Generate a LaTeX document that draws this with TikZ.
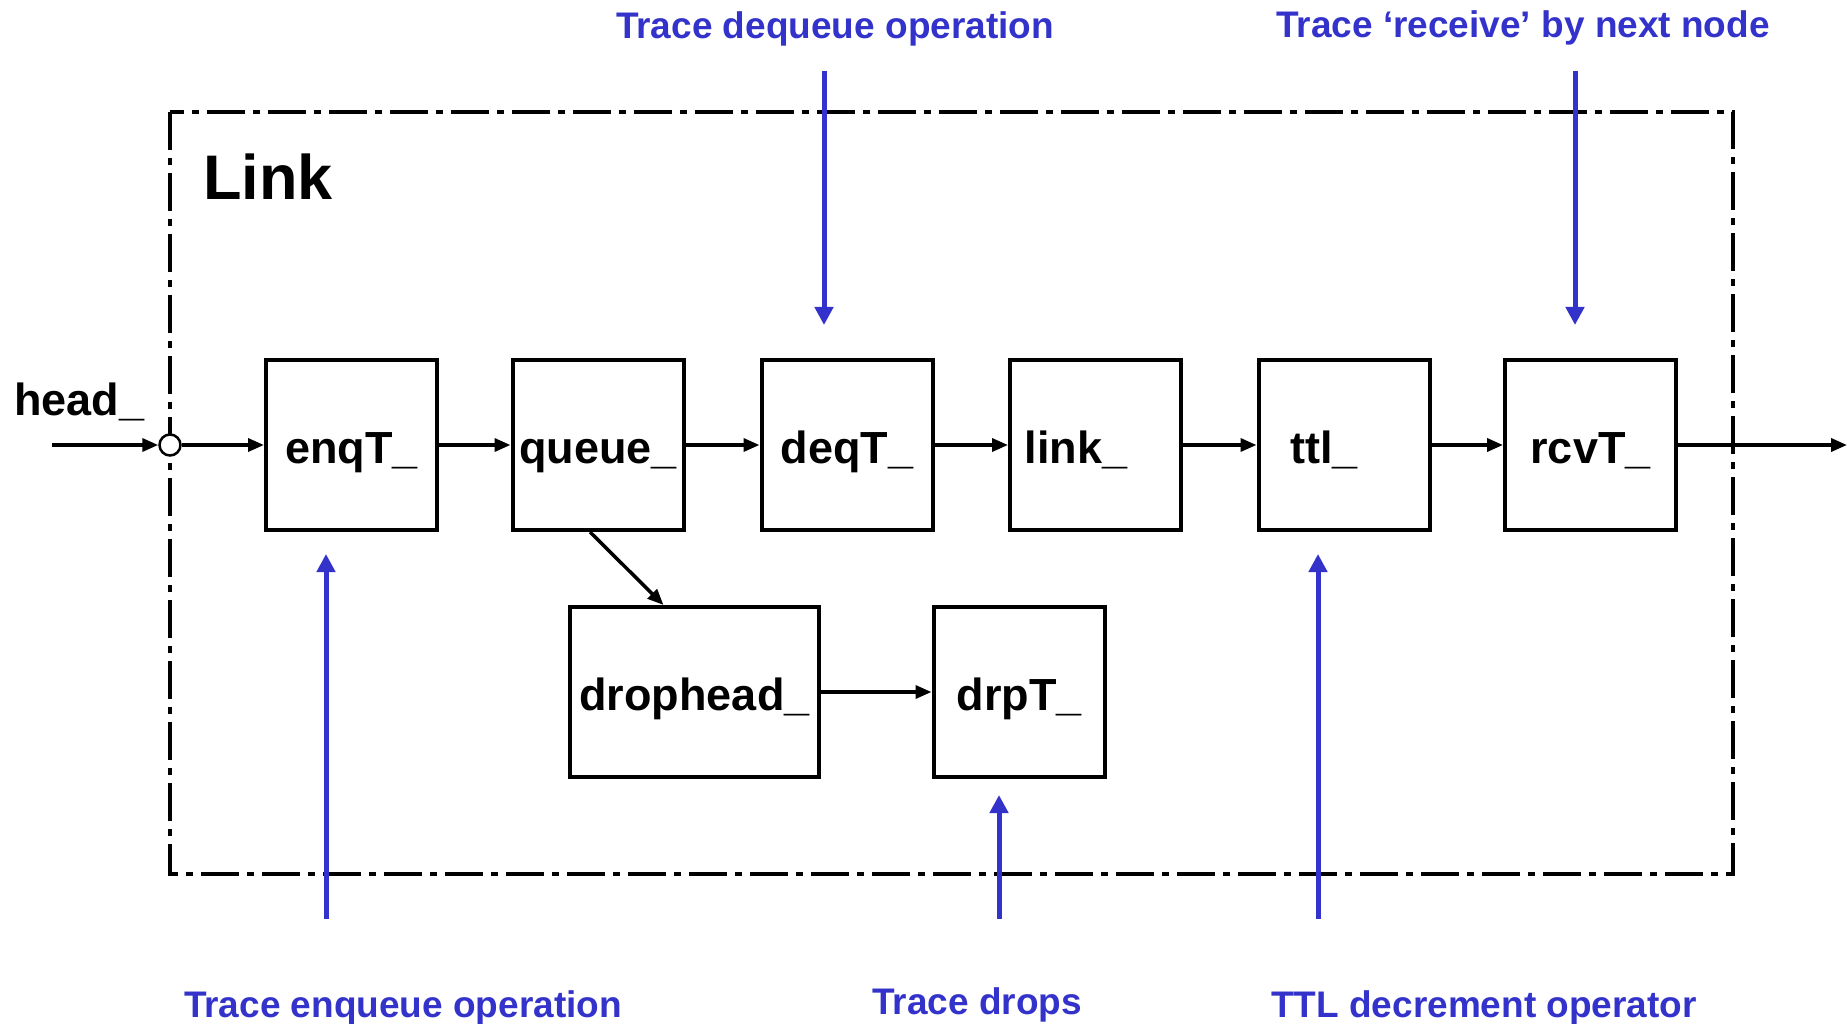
\documentclass[tikz,border=0pt]{standalone}
\usepackage{fontspec}
\setmainfont{Liberation Sans}
\usetikzlibrary{arrows.meta,calc}
\definecolor{traceblue}{RGB}{51,51,204}
\begin{document}
\begin{tikzpicture}[x=1pt,y=-1pt,
  block/.style={draw,line width=4pt,minimum width=171pt,minimum height=170pt,
    inner sep=0pt,text height=37pt,text depth=0pt,
    font=\fontsize{45}{54}\selectfont\bfseries},
  flow/.style={line width=3.5pt,-{Triangle[length=16pt,width=13pt]}},
  trace/.style={draw=traceblue,line width=5pt,-{Triangle[length=18pt,width=18pt]}},
  tracelabel/.style={text=traceblue,inner sep=0pt,anchor=base,
    font=\fontsize{37}{44}\selectfont\bfseries},
  linkframe/.style={line width=4pt,dash pattern=on 38pt off 8pt on 7pt off 8pt}]

\useasboundingbox[fill=white] (0,0) rectangle (1847,1024);

% dash-dotted frame of the Link object
\draw[linkframe] (170,112) rectangle (1733,874);
\node[anchor=base west,inner sep=0pt,font=\fontsize{63}{72}\selectfont\bfseries] (title) at (203,200) {Link};

% main chain of objects
\node[block] (enq)   at (351.5,445) {enqT\_};
\node[block] (queue) at (598,445)   {queue\_};
\node[block] (deq)   at (847,445)   {deqT\_};
\node[block] (lnk)   at (1095.5,445) {link\_\hspace*{39pt}};
\node[block] (ttl)   at (1344,445)  {ttl\_\hspace*{40pt}};
\node[block] (rcv)   at (1590.5,445) {rcvT\_};

% drop branch
\node[block,minimum width=249pt] (drop) at (694.5,692) {drophead\_};
\node[block] (drp) at (1019,692) {drpT\_};

% entry point
\node[anchor=base west,inner sep=0pt,font=\fontsize{45}{54}\selectfont\bfseries] (head) at (14,415) {head\_};
\coordinate (hin) at (52,445);
\node[circle,draw,fill=white,line width=2.5pt,minimum size=21pt,inner sep=0pt] (jn) at (170,445) {};
\coordinate (out) at (1847,445);

\draw[flow] (hin) -- (jn.west);
\draw[flow] (jn.east) -- (enq.west);
\draw[flow] (enq.east) -- (queue.west);
\draw[flow] (queue.east) -- (deq.west);
\draw[flow] (deq.east) -- (lnk.west);
\draw[flow] (lnk.east) -- (ttl.west);
\draw[flow] (ttl.east) -- (rcv.west);
\draw[flow] (rcv.east) -- (out);
\draw[flow] ([xshift=-8pt]queue.south) -- ([xshift=-31pt]drop.north);
\draw[flow] (drop.east) -- (drp.west);

% trace hooks
\coordinate (deqsrc) at (824,71);   \coordinate (deqtip) at (824,325);
\coordinate (rcvsrc) at (1575,71);  \coordinate (rcvtip) at (1575,325);
\coordinate (enqsrc) at (326,919);  \coordinate (enqtip) at (326,554);
\coordinate (drpsrc) at (999,919);  \coordinate (drptip) at (999,795);
\coordinate (ttlsrc) at (1318,919); \coordinate (ttltip) at (1318,554);

\draw[trace] (deqsrc) -- (deqtip);
\draw[trace] (rcvsrc) -- (rcvtip);
\draw[trace] (enqsrc) -- (enqtip);
\draw[trace] (drpsrc) -- (drptip);
\draw[trace] (ttlsrc) -- (ttltip);

\node[tracelabel] (ldeq) at (835,39)   {Trace dequeue operation};
\node[tracelabel] (lrcv) at (1523,38)  {Trace ‘receive’ by next node};
\node[tracelabel] (lenq) at (403,1017) {Trace enqueue operation};
\node[tracelabel] (ldrp) at (977,1014) {Trace drops};
\node[tracelabel] (lttl) at (1484,1017) {TTL decrement operator};
\end{tikzpicture}
\end{document}
